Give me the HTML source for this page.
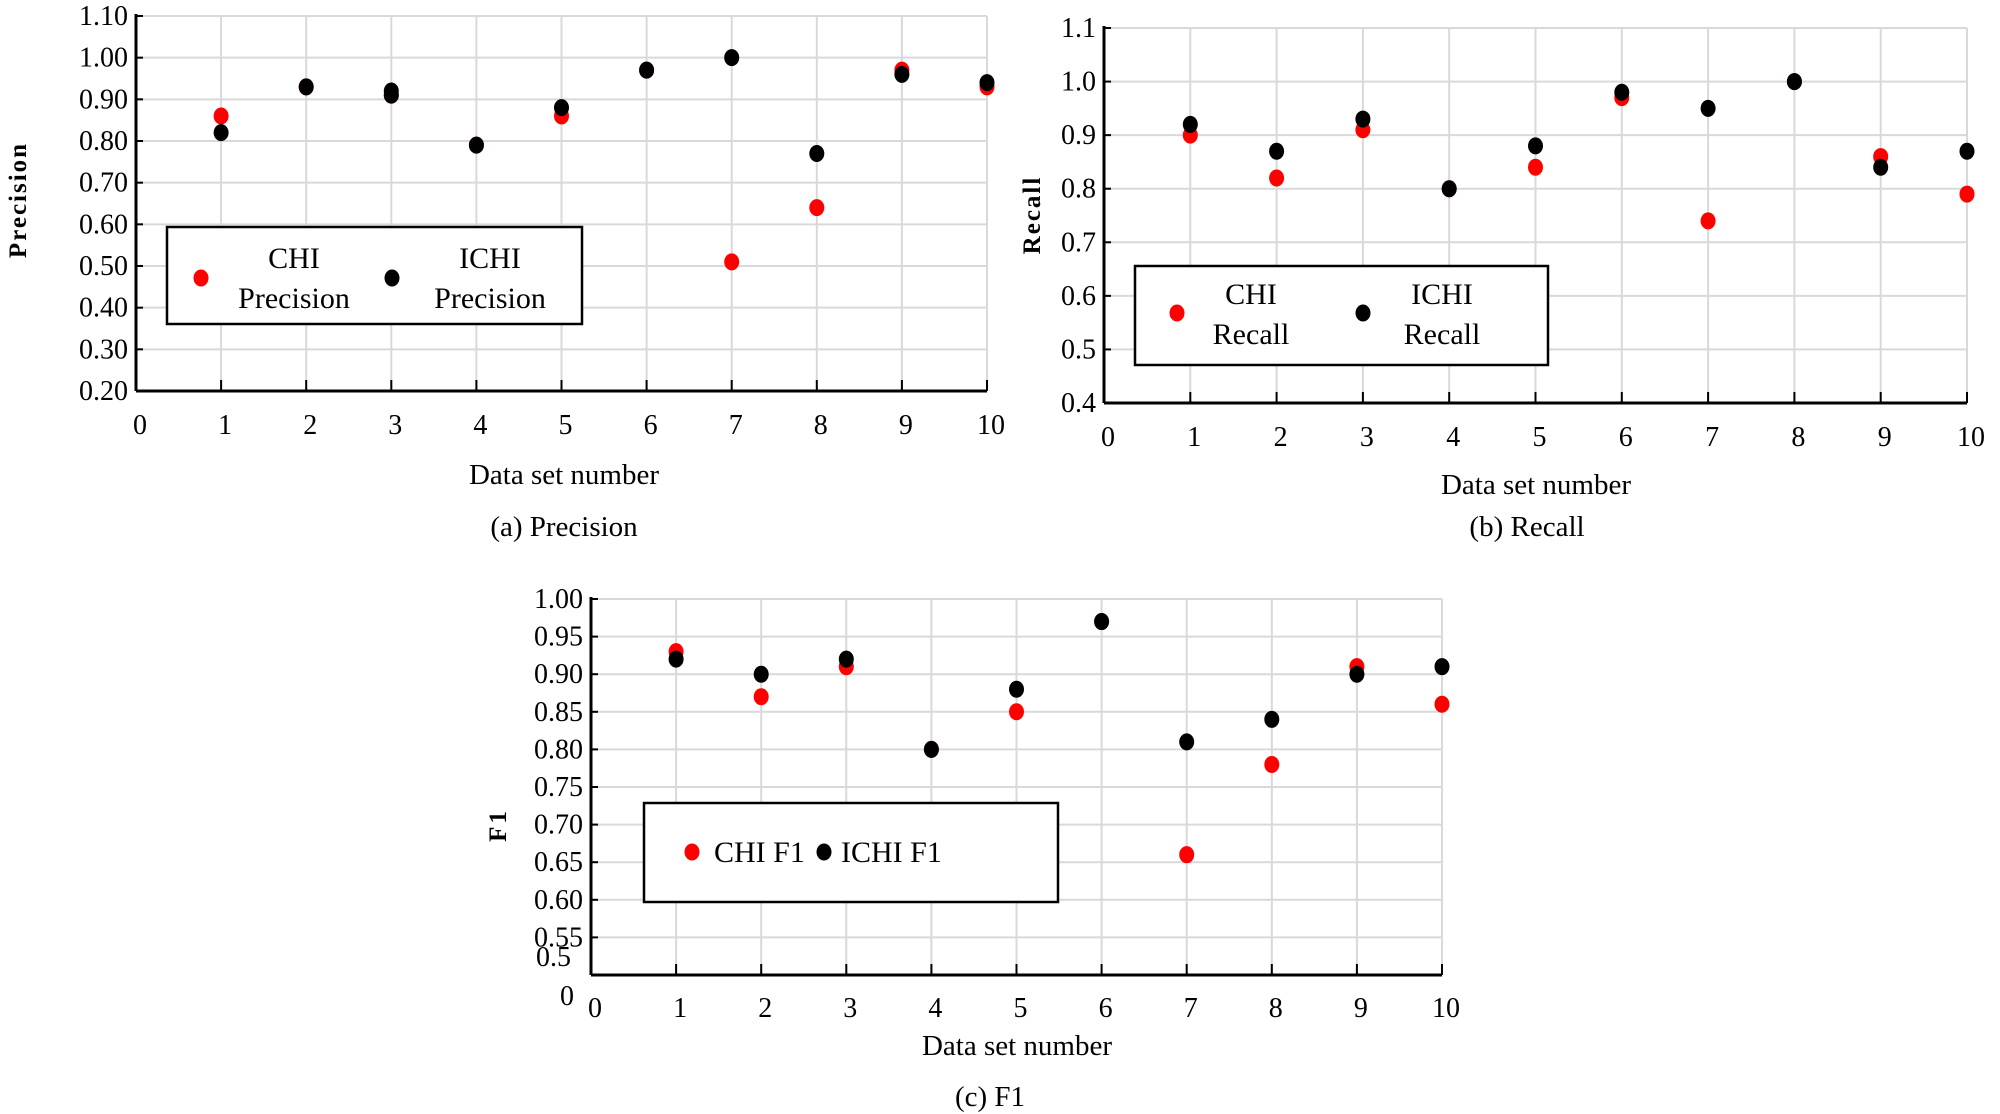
<!DOCTYPE html>
<html><head><meta charset="utf-8">
<style>
html,body{margin:0;padding:0;background:#fff;}
svg{display:block;font-family:"Liberation Serif",serif;}
</style></head>
<body>
<svg id="fig" width="2000" height="1114" viewBox="0 0 2000 1114" xmlns="http://www.w3.org/2000/svg"></svg>
<script>
const categories = [1,2,3,4,5,6,7,8,9,10];
const xTicks = ["0","1","2","3","4","5","6","7","8","9","10"];
const precisionCHI  = [0.86,0.93,0.91,0.79,0.86,0.97,0.51,0.64,0.97,0.93];
const precisionICHI = [0.82,0.93,0.92,0.79,0.88,0.97,1.00,0.77,0.96,0.94];
const precisionICHI2 = [null,null,0.91,null,null,null,null,null,null,null];
const recallCHI  = [0.90,0.82,0.91,0.80,0.84,0.97,0.74,1.00,0.86,0.79];
const recallICHI = [0.92,0.87,0.93,0.80,0.88,0.98,0.95,1.00,0.84,0.87];
const f1CHI  = [0.93,0.87,0.91,0.80,0.85,0.97,0.66,0.78,0.91,0.86];
const f1ICHI = [0.92,0.90,0.92,0.80,0.88,0.97,0.81,0.84,0.90,0.91];
const precisionTicks = ["0.20","0.30","0.40","0.50","0.60","0.70","0.80","0.90","1.00","1.10"];
const recallTicks = ["0.4","0.5","0.6","0.7","0.8","0.9","1.0","1.1"];
const f1Ticks = ["0.55","0.60","0.65","0.70","0.75","0.80","0.85","0.90","0.95","1.00"];

const NS="http://www.w3.org/2000/svg";
const svg=document.getElementById('fig');
function mk(tag,attrs,parent,text){const e=document.createElementNS(NS,tag);for(const k in attrs)e.setAttribute(k,attrs[k]);if(text!==undefined)e.textContent=text;(parent||svg).appendChild(e);return e;}

function chart(cfg){
  const g=mk('g',{});
  
  
  const xs=v=>cfg.x0+(cfg.x1-cfg.x0)*v/10;
  const ys=v=>cfg.yb-(cfg.yb-cfg.yt)*(v-cfg.ymin)/(cfg.ymax-cfg.ymin);
  for(let i=1;i<=10;i++){const l=mk('line',{x1:xs(i),x2:xs(i),y1:cfg.yt,y2:cfg.yb,stroke:'#d9d9d9','stroke-width':2},g);
    
    }
  cfg.yTicks.forEach(t=>{const v=parseFloat(t);const l=mk('line',{x1:cfg.x0,x2:cfg.x1,y1:ys(v),y2:ys(v),stroke:'#d9d9d9','stroke-width':2},g);
    
    
    mk('line',{x1:cfg.x0,x2:cfg.x0+7,y1:ys(v),y2:ys(v),stroke:'#000','stroke-width':2},g);
    const tx=mk('text',{x:cfg.x0-8,y:ys(v)+9,'text-anchor':'end','font-size':28},g,t);
    
    });
  (cfg.extraY||[]).forEach(e=>{const tx=mk('text',{x:e.x,y:e.y,'text-anchor':'end','font-size':28},g,e.t);
    
    });
  const ax=mk('line',{x1:cfg.x0,x2:cfg.x1,y1:cfg.yb,y2:cfg.yb,stroke:'#000','stroke-width':3},g);
  
  
  const ay=mk('line',{x1:cfg.x0,x2:cfg.x0,y1:cfg.yt-2,y2:cfg.yb,stroke:'#000','stroke-width':3},g);
  
  
  xTicks.forEach((t,i)=>{if(i>0)mk('line',{x1:xs(i),x2:xs(i),y1:cfg.yb-11,y2:cfg.yb,stroke:'#000','stroke-width':2},g);
    const tx=mk('text',{x:xs(i)+4,y:cfg.xly,'text-anchor':'middle','font-size':28},g,t);
    
    });
  const xt=mk('text',{x:cfg.xtx,y:cfg.xty,'text-anchor':'middle','font-size':29},g,'Data set number');
  
  
  const yt=mk('text',{x:0,y:0,'text-anchor':'middle','font-size':25,'font-weight':'bold','letter-spacing':cfg.ls,transform:`translate(${cfg.ytx},${cfg.yty}) rotate(-90)`},g,cfg.ytitle);
  
  
  const cp=mk('text',{x:cfg.cx,y:cfg.cy,'text-anchor':'middle','font-size':29},g,cfg.caption);
  
  
  categories.forEach((c,i)=>{const p=mk('ellipse',{cx:xs(c),cy:ys(cfg.chi[i]),rx:7.5,ry:8.5,fill:'#ff0000'},g);
    
    });
  categories.forEach((c,i)=>{const p=mk('ellipse',{cx:xs(c),cy:ys(cfg.ichi[i]),rx:7.5,ry:8.5,fill:'#000'},g);
    
    });
  (cfg.ichi2||[]).forEach((v,i)=>{if(v===null)return;const p=mk('ellipse',{cx:xs(categories[i]),cy:ys(v),rx:7.5,ry:8.5,fill:'#000'},g);
    
    });
  const L=cfg.leg;
  const lg=mk('g',{},g);
  
  
  mk('rect',{x:L.x,y:L.y,width:L.w,height:L.h,fill:'#fff',stroke:'#000','stroke-width':2.5},lg);
  L.items.forEach(it=>{const d=mk('ellipse',{cx:it.dx,cy:it.dy,rx:7.5,ry:8.5,fill:it.c},lg);
    
    
    it.lines.forEach(ln=>{const t=mk('text',{x:ln.x,y:ln.y,'text-anchor':ln.a||'middle','font-size':30},lg,ln.t);
      
      });});
}

chart({name:'precision-chart',x0:136,x1:987,yt:16,yb:391,ymin:0.2,ymax:1.1,yTicks:precisionTicks,xly:434,
  xtx:564,xty:484,ytitle:'Precision',ls:2,ytx:26,yty:200,caption:'(a) Precision',cx:564,cy:536,
  chi:precisionCHI,ichi:precisionICHI,ichi2:precisionICHI2,
  leg:{x:167,y:227,w:415,h:97,items:[
    {c:'#ff0000',dx:201,dy:278,lines:[{x:294,y:268,t:'CHI'},{x:294,y:308,t:'Precision'}]},
    {c:'#000',dx:392,dy:278,lines:[{x:490,y:268,t:'ICHI'},{x:490,y:308,t:'Precision'}]}]}});

chart({name:'recall-chart',x0:1104,x1:1967,yt:28,yb:403,ymin:0.4,ymax:1.1,yTicks:recallTicks,xly:446,
  xtx:1536,xty:494,ytitle:'Recall',ls:2,ytx:1040,yty:215,caption:'(b) Recall',cx:1527,cy:536,
  chi:recallCHI,ichi:recallICHI,
  leg:{x:1135,y:266,w:413,h:99,items:[
    {c:'#ff0000',dx:1177,dy:313,lines:[{x:1251,y:304,t:'CHI'},{x:1251,y:344,t:'Recall'}]},
    {c:'#000',dx:1363,dy:313,lines:[{x:1442,y:304,t:'ICHI'},{x:1442,y:344,t:'Recall'}]}]}});

chart({name:'f1-chart',x0:591,x1:1442,yt:599,yb:975,ymin:0.5,ymax:1.0,yTicks:f1Ticks,xly:1017,
  extraY:[{x:571,y:966,t:'0.5'},{x:574,y:1005,t:'0'}],
  xtx:1017,xty:1055,ytitle:'F1',ls:3,ytx:506,yty:825,caption:'(c) F1',cx:990,cy:1106,
  chi:f1CHI,ichi:f1ICHI,
  leg:{x:644,y:803,w:414,h:99,items:[
    {c:'#ff0000',dx:692,dy:852,lines:[{x:714,y:862,t:'CHI F1',a:'start'}]},
    {c:'#000',dx:824,dy:852,lines:[{x:841,y:862,t:'ICHI F1',a:'start'}]}]}});
</script>
</body></html>
